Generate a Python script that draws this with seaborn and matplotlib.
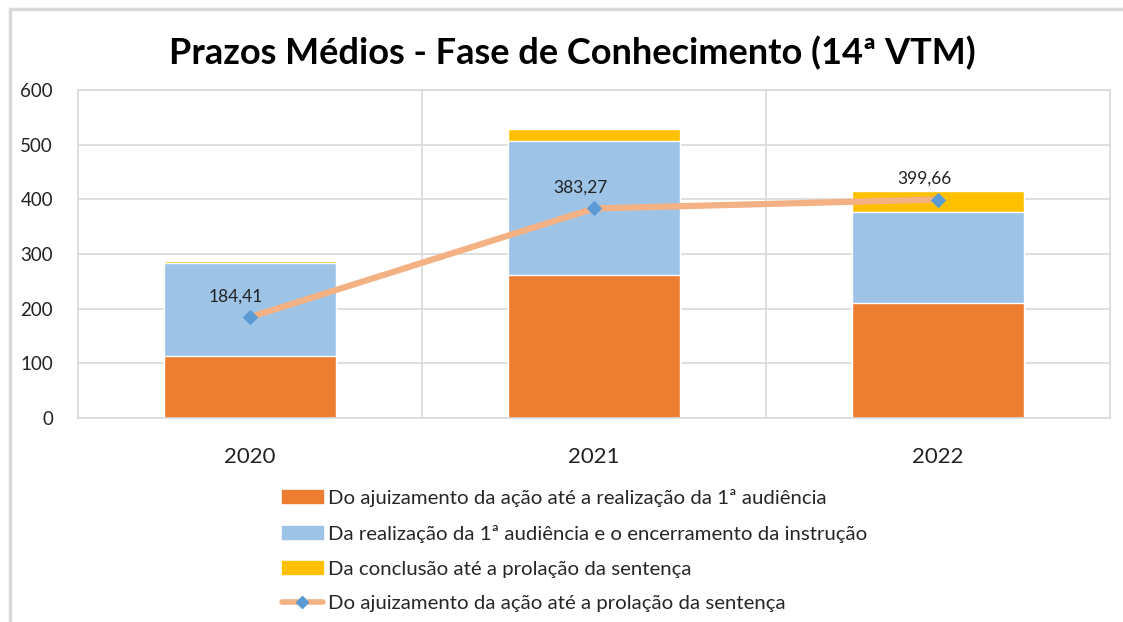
import matplotlib
matplotlib.use('Agg')
import matplotlib.pyplot as plt
import seaborn as sns
import pandas as pd
from matplotlib.lines import Line2D
from matplotlib.patches import Patch

# data
years = ['2020', '2021', '2022']
ate_audiencia = [113, 262, 211]
ate_instrucao = [171, 244, 165]
ate_sentenca = [3, 23, 39]
prazo_total = [184.41, 383.27, 399.66]
total_labels = ['184,41', '383,27', '399,66']

series_names = [
    'Do ajuizamento da ação até a realização da 1ª audiência',
    'Da realização da 1ª audiência e o encerramento da instrução',
    'Da conclusão até a prolação da sentença',
    'Do ajuizamento da ação até a prolação da sentença',
]
c_orange = '#ED7D31'
c_blue = '#9DC3E6'
c_yellow = '#FFC000'
c_line = '#F4B183'
c_marker = '#5B9BD5'

df = pd.DataFrame({'ano': years, 'a': ate_audiencia, 'b': ate_instrucao, 'c': ate_sentenca,
                   'total': prazo_total})
df['ab'] = df['a'] + df['b']
df['abc'] = df['ab'] + df['c']

sns.set_style('white')
plt.rcParams['font.family'] = ['Lato', 'DejaVu Sans']

fig = plt.figure(figsize=(11.23, 6.22), dpi=100)
ax = fig.add_axes([78 / 1123, 1 - 418 / 622, (1110 - 78) / 1123, (418 - 90) / 622])

# stacked bars drawn as cumulative layers
sns.barplot(data=df, x='ano', y='abc', color=c_yellow, width=0.5, saturation=1, ax=ax, zorder=2)
sns.barplot(data=df, x='ano', y='ab', color=c_blue, width=0.5, saturation=1, ax=ax, zorder=2)
sns.barplot(data=df, x='ano', y='a', color=c_orange, width=0.5, saturation=1, ax=ax, zorder=2)

xs = list(range(len(years)))
sns.lineplot(x=xs, y=df['total'], color=c_line, linewidth=4.5, marker='D', markersize=7,
             markerfacecolor=c_marker, markeredgecolor=c_marker, ax=ax, zorder=3)
for x, y, lab in zip(xs, prazo_total, total_labels):
    ax.annotate(lab, (x, y), xytext=(-10, 9), textcoords='offset points', ha='center',
                va='bottom', fontsize=12.5, color='#222222', zorder=4)

ax.set_ylim(0, 600)
ax.set_xlim(-0.5, 2.5)
ax.set_yticks(range(0, 601, 100))
ax.set_xlabel('')
ax.set_ylabel('')
ax.grid(axis='y', color='#D9D9D9', linewidth=1.2, zorder=0)
for b in [0.5, 1.5]:
    ax.axvline(b, color='#D9D9D9', linewidth=1.2, zorder=0)
for s in ax.spines.values():
    s.set_color('#D9D9D9')
    s.set_linewidth(1.2)
ax.tick_params(axis='y', labelsize=13.5, length=0, pad=18, labelcolor='#222222')
ax.tick_params(axis='x', labelsize=16, length=0, pad=21, labelcolor='#222222')

fig.text(572 / 1123, 1 - 53 / 622, 'Prazos Médios - Fase de Conhecimento (14ª VTM)',
         ha='center', va='center', fontsize=26, fontweight='bold', color='black')

handles = [Patch(color=c_orange), Patch(color=c_blue), Patch(color=c_yellow),
           Line2D([], [], color=c_line, linewidth=4, marker='D', markersize=6,
                  markerfacecolor=c_marker, markeredgecolor=c_marker)]
fig.legend(handles, series_names, loc='upper left', bbox_to_anchor=(282 / 1123, 1 - 489 / 622),
           frameon=False, fontsize=14.7, handlelength=2.0, handleheight=0.6, labelspacing=0.87,
           handletextpad=0.25, borderaxespad=0, borderpad=0)

# outer chart frame
fig.add_artist(Line2D([10 / 1123, 10 / 1123], [0, 1 - 9 / 622], color='#D9D9D9', linewidth=2.5,
                      transform=fig.transFigure))
fig.add_artist(Line2D([10 / 1123, 1], [1 - 9 / 622, 1 - 9 / 622], color='#D9D9D9', linewidth=2.5,
                      transform=fig.transFigure))

fig.savefig('out.png', dpi=100)
